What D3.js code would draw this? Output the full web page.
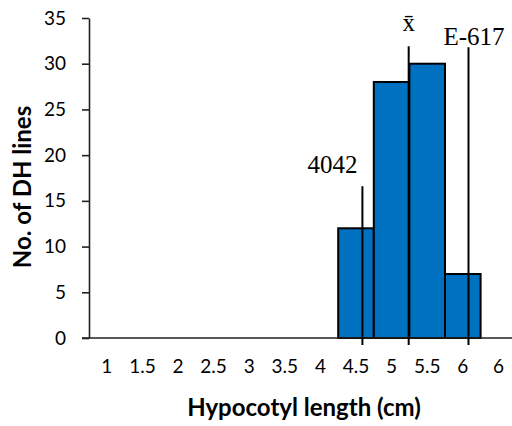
<!DOCTYPE html>
<html>
<head>
<meta charset="utf-8">
<script src="https://cdn.jsdelivr.net/npm/d3@7"></script>
<style>
  html, body { margin: 0; padding: 0; background: #fff; }
  svg { display: block; }
</style>
</head>
<body>
<svg id="chart" width="512" height="426"></svg>
<script>
// Hypocotyl length classes (cm) and number of DH lines in each class
const categories = ["1", "1.5", "2", "2.5", "3", "3.5", "4", "4.5", "5", "5.5", "6", "6"];
const counts = [0, 0, 0, 0, 0, 0, 0, 12, 28, 30, 7, 0];

// Reference lines: parents and population mean (hypocotyl length, cm)
const markerNames = ["4042", "x\u0304", "E-617"];
const markerValues = [4.59, 5.24, 6.08];

const yTicks = [0, 5, 10, 15, 20, 25, 30, 35];

const W = 512, H = 426;
const plot = { left: 89, top: 18, bottom: 338 };
const step = 35.6;
const sans = "Lato, 'Open Sans', sans-serif";
const serif = "'Liberation Serif', 'Times New Roman', serif";

const svg = d3.select("#chart");

const x = d3.scaleBand()
  .domain(d3.range(categories.length))
  .range([plot.left, plot.left + step * categories.length])
  .padding(0);

const y = d3.scaleLinear().domain([0, 35]).range([plot.bottom, plot.top]);

// continuous length scale aligned with class centres
const c0 = x(0) + x.bandwidth() / 2, c1 = x(1) + x.bandwidth() / 2;
const xLen = d3.scaleLinear().domain([1, 1.5]).range([c0, c1]);

// bars
const bars = categories.map((c, i) => ({ i, v: counts[i] })).filter(d => d.v > 0);
svg.append("g").selectAll("rect").data(bars).join("rect")
  .attr("x", d => x(d.i))
  .attr("y", d => y(d.v))
  .attr("width", x.bandwidth())
  .attr("height", d => y(0) - y(d.v))
  .attr("fill", "#0070C0")
  .attr("stroke", "#000")
  .attr("stroke-width", 2);

// y axis
const yAxis = svg.append("g")
  .attr("transform", `translate(${plot.left},0)`)
  .call(d3.axisLeft(y).tickValues(yTicks).tickSize(7).tickPadding(16).tickSizeOuter(0));
yAxis.select(".domain").attr("stroke", "#222").attr("stroke-width", 1.6);
yAxis.selectAll(".tick line").attr("stroke", "#222").attr("stroke-width", 1.6);
yAxis.selectAll(".tick text")
  .attr("font-family", sans)
  .attr("font-size", 19)
  .attr("fill", "#000");

// x axis: baseline and class labels
svg.append("line")
  .attr("x1", plot.left - 7).attr("x2", W)
  .attr("y1", y(0)).attr("y2", y(0))
  .attr("stroke", "#222").attr("stroke-width", 1.6);

const xAxis = svg.append("g")
  .attr("transform", `translate(0,${plot.bottom})`)
  .call(d3.axisBottom(x).tickFormat(i => categories[i]).tickSize(0).tickPadding(22));
xAxis.select(".domain").remove();
xAxis.selectAll(".tick text")
  .attr("font-family", sans)
  .attr("font-size", 19)
  .attr("fill", "#000");

// reference lines with labels
const markerTop = [16.6, 31.9, 31.8];
const labelPos = [
  { dx: -5, y: 173, anchor: "end" },
  { dx: 0, y: 31, anchor: "middle" },
  { dx: -25, y: 45, anchor: "start" }
];
markerValues.forEach((v, k) => {
  const mx = xLen(v);
  svg.append("line")
    .attr("x1", mx).attr("x2", mx)
    .attr("y1", y(markerTop[k])).attr("y2", y(0) + 7)
    .attr("stroke", "#000").attr("stroke-width", 2);
  svg.append("text")
    .attr("x", mx + labelPos[k].dx)
    .attr("y", labelPos[k].y)
    .attr("text-anchor", labelPos[k].anchor)
    .attr("font-family", serif)
    .attr("font-size", 25)
    .attr("fill", "#000")
    .text(markerNames[k]);
});

// axis titles
svg.append("text")
  .attr("x", 304).attr("y", 416)
  .attr("text-anchor", "middle")
  .attr("font-family", sans)
  .attr("font-weight", "bold")
  .attr("font-size", 24)
  .text("Hypocotyl length (cm)");

svg.append("text")
  .attr("transform", "translate(31,187) rotate(-90)")
  .attr("text-anchor", "middle")
  .attr("font-family", sans)
  .attr("font-weight", "bold")
  .attr("font-size", 24)
  .text("No. of DH lines");
</script>
</body>
</html>
